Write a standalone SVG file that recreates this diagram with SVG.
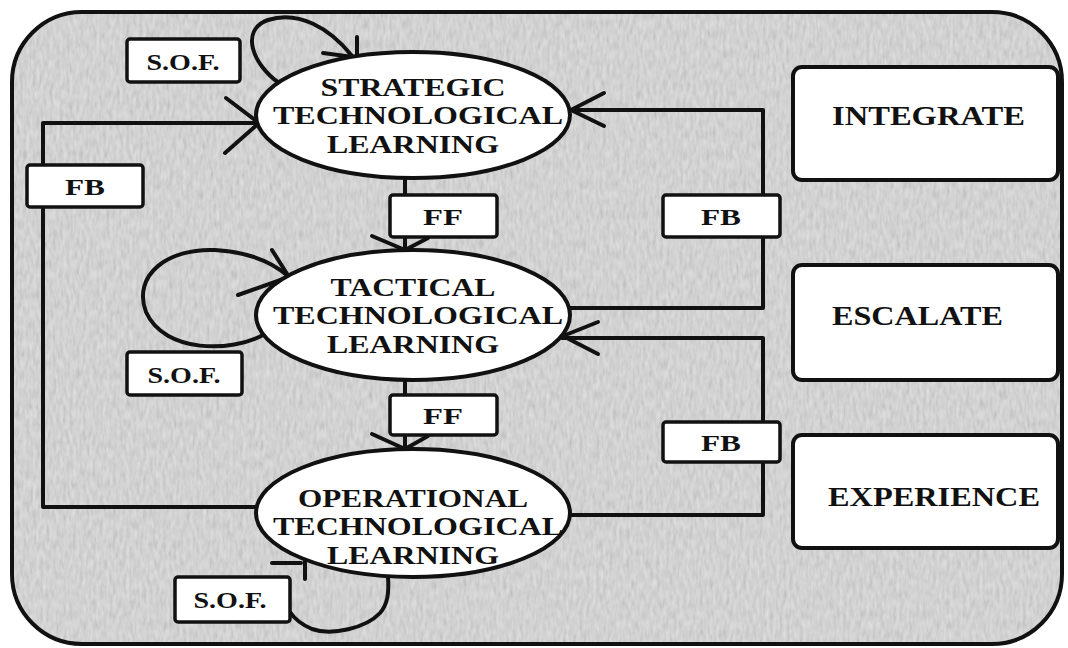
<svg xmlns="http://www.w3.org/2000/svg" width="1068" height="648" viewBox="0 0 1068 648">
  <defs>
    <style>
      .ln{fill:none;stroke:#111;stroke-width:4;stroke-linecap:round;stroke-linejoin:round}
      .ah{fill:none;stroke:#111;stroke-width:4;stroke-linecap:round;stroke-linejoin:round}
      .ell{fill:#fff;stroke:#111;stroke-width:4}
      .box{fill:#fff;stroke:#111;stroke-width:3.5}
      .big{fill:#fff;stroke:#111;stroke-width:4}
      .t{font-family:"Liberation Serif","Times New Roman",serif;font-weight:bold;fill:#111}
      .et{font-size:26px;text-anchor:middle}
      .st{font-size:24px;text-anchor:middle}
      .bt{font-size:27px}
    </style>
    <filter id="noise" x="0" y="0" width="100%" height="100%">
      <feTurbulence type="fractalNoise" baseFrequency="0.3 0.1" numOctaves="2" seed="7"/>
      <feColorMatrix type="saturate" values="0"/>
      <feComponentTransfer>
        <feFuncA type="linear" slope="0" intercept="1"/>
      </feComponentTransfer>
    </filter>
    <clipPath id="frameClip">
      <rect x="12" y="12" width="1050" height="632" rx="70" ry="70"/>
    </clipPath>
  </defs>

  <rect x="0" y="0" width="1068" height="648" fill="#fff"/>
  <g id="frame">
    <rect x="12" y="12" width="1050" height="632" rx="70" ry="70" fill="#dcdcdc"/>
    <g clip-path="url(#frameClip)">
      <rect x="12" y="12" width="1050" height="632" filter="url(#noise)" opacity="0.3"/>
    </g>
    <rect x="12" y="12" width="1050" height="632" rx="70" ry="70" fill="none" stroke="#111" stroke-width="4"/>
  </g>

  <g id="connectors">
    <!-- left FB loop: operational -> strategic -->
    <path class="ln" d="M257,507 H43 V123 H259"/>
    <polyline class="ah" points="226,98 259,123 225,153"/>
    <!-- right FB loop 1: tactical -> strategic -->
    <path class="ln" d="M569,308 H763 V110 H571"/>
    <polyline class="ah" points="604,93 571,110 604,126"/>
    <!-- right FB loop 2: operational -> tactical -->
    <path class="ln" d="M570,515 H763 V338 H562"/>
    <polyline class="ah" points="598,322 563,336 598,354"/>
    <!-- FF strategic -> tactical -->
    <path class="ln" d="M405,178 V195"/>
    <path class="ln" d="M405,237 V250"/>
    <polyline class="ah" points="372,236 405,250 428,238"/>
    <!-- FF tactical -> operational -->
    <path class="ln" d="M405,380 V395"/>
    <path class="ln" d="M405,435 V449"/>
    <polyline class="ah" points="372,434 405,449 428,436"/>
    <!-- S.O.F. loop strategic -->
    <path class="ln" d="M279,83 C252,64 240,30 268,20 C298,10 330,28 352,56"/>
    <polyline class="ah" points="323,53 353,57"/>
    <path class="ln" d="M357,37 V57"/>
    <!-- S.O.F. loop tactical -->
    <path class="ln" d="M263,335 C232,352 165,354 146,312 C132,275 168,248 215,250 C248,252 272,262 288,276"/>
    <polyline class="ah" points="238,295 289,277 272,250"/>
    <!-- S.O.F. loop operational -->
    <path class="ln" d="M388,577 C389,592 388,604 380,613 C366,628 332,636 312,629 C300,624 294,618 290,612"/>
    <path class="ln" d="M272,563 H301"/>
    <path class="ln" d="M305,560 V579"/>
  </g>

  <g id="strategic">
    <ellipse class="ell" cx="413" cy="115" rx="157" ry="63"/>
    <text class="t et" x="413" y="96" textLength="185" lengthAdjust="spacingAndGlyphs">STRATEGIC</text>
    <text class="t et" x="418" y="124" textLength="290" lengthAdjust="spacingAndGlyphs">TECHNOLOGICAL</text>
    <text class="t et" x="413" y="153" textLength="172" lengthAdjust="spacingAndGlyphs">LEARNING</text>
  </g>
  <g id="tactical">
    <ellipse class="ell" cx="413" cy="315" rx="157" ry="65"/>
    <text class="t et" x="413" y="296" textLength="165" lengthAdjust="spacingAndGlyphs">TACTICAL</text>
    <text class="t et" x="418" y="324" textLength="290" lengthAdjust="spacingAndGlyphs">TECHNOLOGICAL</text>
    <text class="t et" x="413" y="353" textLength="172" lengthAdjust="spacingAndGlyphs">LEARNING</text>
  </g>
  <g id="operational">
    <ellipse class="ell" cx="413" cy="513" rx="157" ry="64"/>
    <text class="t et" x="413" y="507" textLength="230" lengthAdjust="spacingAndGlyphs">OPERATIONAL</text>
    <text class="t et" x="418" y="535" textLength="290" lengthAdjust="spacingAndGlyphs">TECHNOLOGICAL</text>
    <text class="t et" x="413" y="564" textLength="172" lengthAdjust="spacingAndGlyphs">LEARNING</text>
  </g>

  <g id="sof-strategic">
    <rect class="box" x="127" y="39" width="113" height="43" rx="3"/>
    <text class="t st" x="183" y="70" textLength="73" lengthAdjust="spacingAndGlyphs">S.O.F.</text>
  </g>
  <g id="sof-tactical">
    <rect class="box" x="127" y="352" width="115" height="43" rx="3"/>
    <text class="t st" x="184" y="383" textLength="73" lengthAdjust="spacingAndGlyphs">S.O.F.</text>
  </g>
  <g id="sof-operational">
    <rect class="box" x="175" y="577" width="115" height="45" rx="3"/>
    <text class="t st" x="230" y="608" textLength="73" lengthAdjust="spacingAndGlyphs">S.O.F.</text>
  </g>

  <g id="fb-left">
    <rect class="box" x="27" y="165" width="116" height="42" rx="3"/>
    <text class="t st" x="85" y="195" font-size="26" textLength="40" lengthAdjust="spacingAndGlyphs">FB</text>
  </g>
  <g id="ff-1">
    <rect class="box" x="390" y="195" width="107" height="42" rx="3"/>
    <text class="t st" x="443" y="225" font-size="26" textLength="40" lengthAdjust="spacingAndGlyphs">FF</text>
  </g>
  <g id="ff-2">
    <rect class="box" x="390" y="395" width="107" height="40" rx="3"/>
    <text class="t st" x="443" y="424" font-size="26" textLength="40" lengthAdjust="spacingAndGlyphs">FF</text>
  </g>
  <g id="fb-right-1">
    <rect class="box" x="663" y="195" width="117" height="42" rx="3"/>
    <text class="t st" x="721" y="225" font-size="26" textLength="40" lengthAdjust="spacingAndGlyphs">FB</text>
  </g>
  <g id="fb-right-2">
    <rect class="box" x="663" y="422" width="117" height="40" rx="3"/>
    <text class="t st" x="721" y="451" font-size="26" textLength="40" lengthAdjust="spacingAndGlyphs">FB</text>
  </g>

  <g id="integrate">
    <rect class="big" x="793" y="67" width="265" height="113" rx="9"/>
    <text class="t bt" x="832" y="125" textLength="193" lengthAdjust="spacingAndGlyphs">INTEGRATE</text>
  </g>
  <g id="escalate">
    <rect class="big" x="793" y="265" width="265" height="115" rx="9"/>
    <text class="t bt" x="832" y="325" textLength="171" lengthAdjust="spacingAndGlyphs">ESCALATE</text>
  </g>
  <g id="experience">
    <rect class="big" x="793" y="435" width="265" height="113" rx="9"/>
    <text class="t bt" x="828" y="506" textLength="212" lengthAdjust="spacingAndGlyphs">EXPERIENCE</text>
  </g>
</svg>
